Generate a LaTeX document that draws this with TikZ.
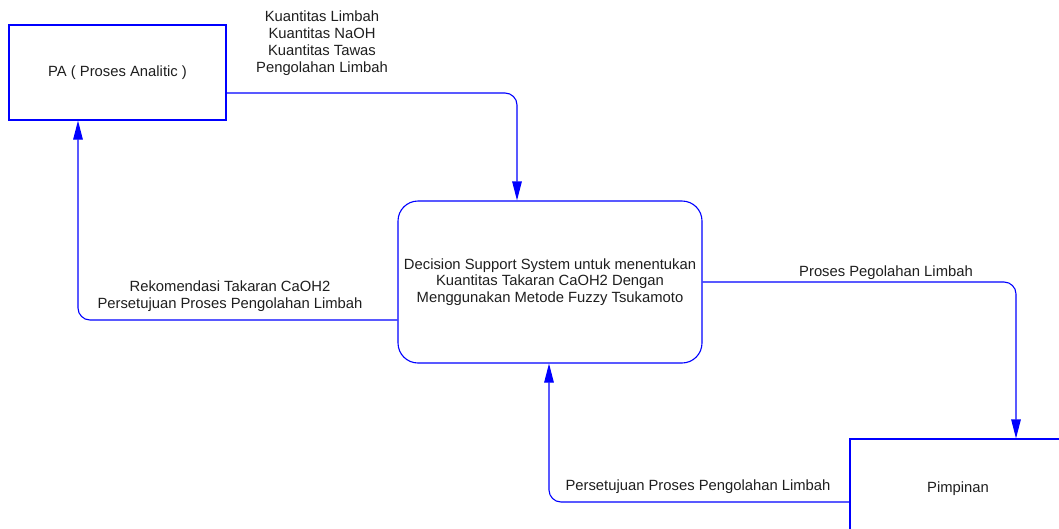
\documentclass[tikz,border=0pt]{standalone}
\usepackage{fontspec}
\setmainfont{Liberation Sans}
\usetikzlibrary{arrows.meta}
\definecolor{flowblue}{HTML}{0000FF}
\definecolor{ink}{HTML}{1E1E1E}
\newcommand{\LabelF}{\fontsize{14.8}{16.8}\selectfont}

\tikzset{
  entity/.style={draw=flowblue, line width=1.1pt, inner sep=0pt,
                 minimum width=217pt, minimum height=95pt,
                 font=\LabelF, text=ink},
  process/.style={entity, rounded corners=20pt,
                  minimum width=304pt, minimum height=162pt, align=center},
  flow/.style={draw=flowblue, line width=1.1pt, rounded corners=12pt,
               -{Triangle[length=19pt, width=9.5pt]}},
  flowlabel/.style={font=\LabelF, text=ink, align=center, inner sep=0pt}
}

\begin{document}
\begin{tikzpicture}[x=1pt, y=-1pt]
  \useasboundingbox (0,0) rectangle (1059,528);

  \node[entity] (pa) at (117.5,72.5) {PA ( Proses Analitic )};
  \node[process] (dss) at (550,282) {Decision Support System untuk menentukan\\
    Kuantitas Takaran CaOH2 Dengan\\
    Menggunakan Metode Fuzzy Tsukamoto};
  \node[entity, minimum width=216pt, minimum height=100pt] (pim) at (958,489) {Pimpinan};

  \draw[flow] (pa.east |- 0,93) -| (dss.north -| 517,0);
  \draw[flow] (dss.west |- 0,320) -| (pa.south -| 78,0);
  \draw[flow] (dss.east |- 0,282) -| (pim.north -| 1016,0);
  \draw[flow] (pim.west |- 0,502) -| (dss.south -| 549,0);

  \node[flowlabel] (lblin) at (322,43) {Kuantitas Limbah\\Kuantitas NaOH\\
    Kuantitas Tawas\\Pengolahan Limbah};
  \node[flowlabel] (lblback) at (230,296) {Rekomendasi Takaran CaOH2\\
    Persetujuan Proses Pengolahan Limbah};
  \node[flowlabel] (lblout) at (886,273) {Proses Pegolahan Limbah};
  \node[flowlabel] (lblok) at (698,487) {Persetujuan Proses Pengolahan Limbah};
\end{tikzpicture}
\end{document}
